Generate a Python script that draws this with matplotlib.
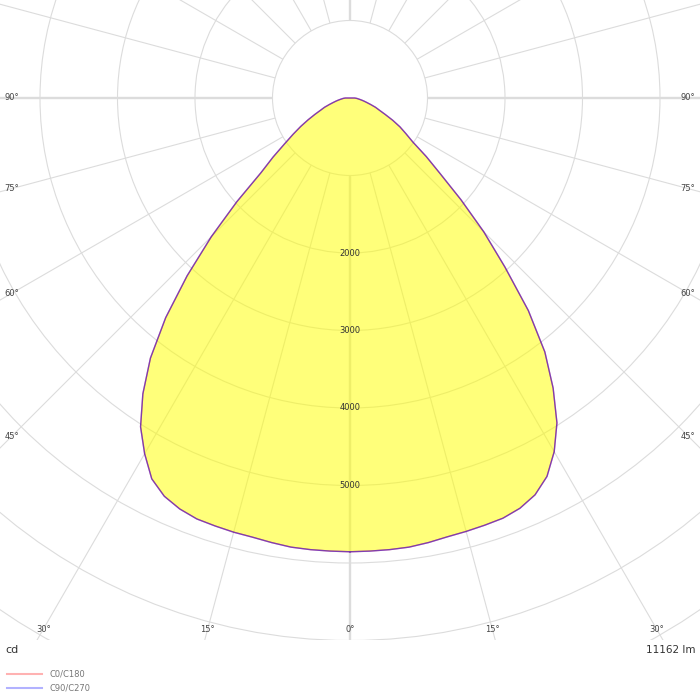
import numpy as np
import matplotlib.pyplot as plt
from matplotlib.patches import Circle
from matplotlib.lines import Line2D

gamma = [0, 2.5, 5, 7.5, 10, 12.5, 15, 17.5, 20, 22.5, 25, 27.5, 30, 32.5,
         35, 37.5, 40, 42.5, 45, 47.5, 50, 52.5, 55, 57.5, 60, 62.5, 65,
         67.5, 70, 72.5, 75, 77.5, 80, 82.5, 85, 87.5, 90]
# lado C0 (derecha)
i_c0 = [5855, 5852, 5850, 5845, 5825, 5800, 5790, 5780, 5770, 5730, 5650,
        5505, 5270, 4970, 4570, 4130, 3580, 2960, 2440, 1940, 1520, 1240,
        990, 855, 744, 620, 500, 410, 350, 280, 225, 185, 150, 120, 100, 80, 60]
# lado C180 (izquierda), un poco mas ancho
i_c180 = [5855, 5852, 5850, 5845, 5825, 5805, 5800, 5790, 5780, 5740, 5670,
          5540, 5300, 5030, 4660, 4230, 3700, 3110, 2530, 1980, 1500, 1250,
          1030, 870, 735, 610, 500, 410, 350, 280, 225, 185, 150, 120, 100, 80, 60]
# C90/C270 coincide con C0/C180
i_c90 = list(i_c0)
i_c270 = list(i_c180)

rings = [1000, 2000, 3000, 4000, 5000, 6000, 7000, 8000, 9000, 10000]
ring_labels = [2000, 3000, 4000, 5000]
side_angles = [90, 75, 60, 45]
bottom_angles = [30, 15, 0]
flux_label = "11162 lm"
unit_label = "cd"
series_names = ["C0/C180", "C90/C270"]

SCALE = 0.0775  # px por cd
W, H = 700, 700
OX, OY = 350, 98      # origen en px (desde arriba)
BOTTOM = 640          # limite inferior del area polar

def curve_xy(right, left):
    g = np.radians(np.array(gamma))
    r = np.array(right, dtype=float)
    l = np.array(left, dtype=float)
    # derecha de 0 a 90, luego origen, luego izquierda de 90 a 0
    xs = np.concatenate([r * np.sin(g), [0.0], -l[::-1] * np.sin(g[::-1])])
    ys = np.concatenate([-r * np.cos(g), [0.0], -l[::-1] * np.cos(g[::-1])])
    return xs, ys

fig = plt.figure(figsize=(7, 7), dpi=100)
ax = fig.add_axes([0, 1 - BOTTOM / H, 1, BOTTOM / H])
ax.set_xlim(-OX / SCALE, (W - OX) / SCALE)
ax.set_ylim(-(BOTTOM - OY) / SCALE, OY / SCALE)
ax.set_aspect('equal')
ax.axis('off')

grid_c = '#dcdcdc'
# circulos
for r in rings:
    ax.add_patch(Circle((0, 0), r, fill=False, ec=grid_c, lw=0.8, zorder=1))
# radios cada 15 grados, desde el circulo de 1000
for a in range(0, 360, 15):
    t = np.radians(a)
    lw = 1.7 if a % 90 == 0 else 0.8
    ax.plot([1000 * np.sin(t), 12000 * np.sin(t)],
            [-1000 * np.cos(t), -12000 * np.cos(t)],
            color=grid_c, lw=lw, zorder=1, solid_capstyle='butt')

# relleno y curvas
xs, ys = curve_xy(i_c0, i_c180)
ax.fill(xs, ys, color='#ffff00', alpha=0.52, lw=0, zorder=2)
l1, = ax.plot(xs, ys, color='#ff0000', alpha=0.5, lw=1.0, zorder=3)
xs2, ys2 = curve_xy(i_c90, i_c270)
l2, = ax.plot(xs2, ys2, color='#0000ff', alpha=0.5, lw=1.0, zorder=3)

# etiquetas de intensidad
for v in ring_labels:
    ax.text(0, -v, str(v), ha='center', va='center', fontsize=6,
            color='#333333', zorder=4)

# etiquetas de angulo
edge = (OX - 12) / SCALE
for a in side_angles:
    t = np.radians(a)
    y = -edge / np.tan(t) if a != 90 else 0.0
    ax.text(-edge, y, f"{a}°", ha='center', va='center', fontsize=6,
            color='#444444', zorder=4)
    ax.text(edge, y, f"{a}°", ha='center', va='center', fontsize=6,
            color='#444444', zorder=4)
yb = -(629 - OY) / SCALE
for a in bottom_angles:
    x = -yb * np.tan(np.radians(a))
    for sx in ([1] if a == 0 else [-1, 1]):
        ax.text(sx * x, yb, f"{a}°", ha='center', va='center', fontsize=6,
                color='#444444', zorder=4)

# textos del pie
fig.text(5 / W, 1 - 650 / H, unit_label, ha='left', va='center',
         fontsize=8, color='#333333')
fig.text(695 / W, 1 - 650 / H, flux_label, ha='right', va='center',
         fontsize=7.5, color='#333333')

# leyenda manual
for k, (ln, name) in enumerate(zip([l1, l2], series_names)):
    yy = 1 - (674 + 14 * k) / H
    fig.add_artist(Line2D([7 / W, 42 / W], [yy, yy], color=ln.get_color(),
                          alpha=0.3, lw=1.5))
    fig.text(49 / W, yy, name, ha='left', va='center', fontsize=6,
             color='#777777')

plt.savefig('out.png', dpi=100)
